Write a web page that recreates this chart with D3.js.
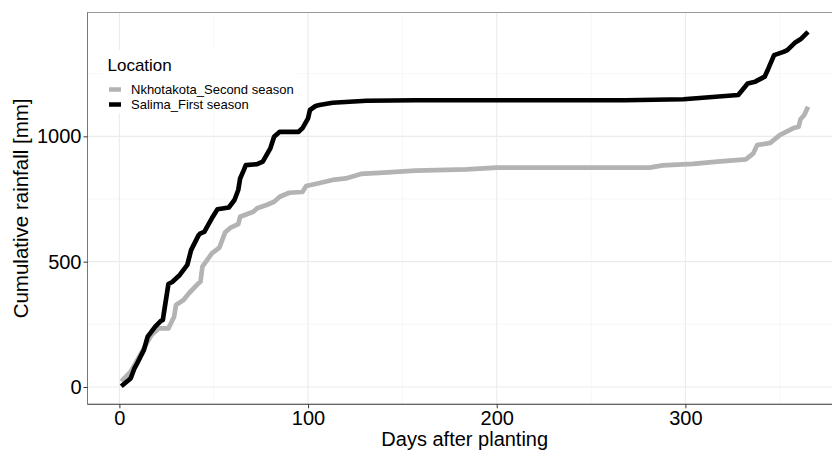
<!DOCTYPE html>
<html>
<head>
    <meta charset="utf-8">
    <title>Cumulative rainfall</title>
    <script src="https://cdn.jsdelivr.net/npm/d3@7"></script>
    <style>
        body { margin: 0; background: #fff; }
        text { font-family: "Liberation Sans", Arial, sans-serif; }
    </style>
</head>
<body>
<script>
    var w = 832;
    var h = 450;

    // Salima_First season (days after planting, cumulative mm)
    var salimaDays = [1, 5, 6, 8, 9, 13, 15, 19, 22, 23, 26, 28, 32, 36, 38, 42, 43, 45, 49, 52, 58, 61, 63, 64, 66, 67, 73, 76, 80, 82, 85, 95, 97, 100, 101, 104, 106, 113, 131, 157, 268, 299, 316, 328, 333, 337, 342, 344, 347, 352, 354, 358, 361, 365];
    var salimaRain = [3, 28, 35, 75, 88, 148, 201, 241, 264, 267, 411, 419, 447, 487, 546, 606, 613, 619, 673, 709, 716, 746, 786, 832, 866, 885, 889, 899, 952, 998, 1018, 1018, 1032, 1072, 1105, 1121, 1125, 1134, 1142, 1144, 1144, 1148, 1158, 1165, 1211, 1218, 1238, 1271, 1324, 1337, 1344, 1373, 1387, 1417];

    // Nkhotakota_Second season
    var nkhotaDays = [1, 6, 10, 14, 17, 21, 26, 29, 30, 34, 37, 42, 43, 44, 49, 53, 56, 59, 63, 64, 71, 73, 78, 82, 85, 90, 97, 99, 105, 113, 120, 128, 140, 157, 184, 200, 281, 288, 304, 317, 332, 336, 338, 345, 350, 357, 360, 361, 363, 365];
    var nkhotaRain = [22, 61, 114, 168, 207, 234, 234, 280, 327, 347, 375, 414, 420, 480, 533, 556, 616, 636, 650, 679, 699, 713, 726, 739, 759, 775, 778, 802, 812, 826, 832, 850, 855, 863, 868, 875, 875, 884, 890, 899, 908, 932, 965, 974, 1005, 1032, 1038, 1068, 1085, 1118];

    var xTicks = [0, 100, 200, 300];
    var xMinor = [50, 150, 250, 350];
    var yTicks = [0, 500, 1000];
    var yMinor = [250, 750, 1250];

    var seriesNames = ["Nkhotakota_Second season", "Salima_First season"];
    var seriesColors = ["#b3b3b3", "#000000"];

    var panel = {left: 87.5, right: 842, top: 12.5, bottom: 404.3};

    var x = d3.scaleLinear().domain([-16.9, 383]).range([panel.left, panel.right]);
    var y = d3.scaleLinear().domain([-69, 1494]).range([panel.bottom, panel.top]);

    var svg = d3.select("body").append("svg")
        .attr("width", w)
        .attr("height", h);

    svg.append("defs").append("clipPath").attr("id", "clip")
        .append("rect")
        .attr("x", panel.left).attr("y", panel.top)
        .attr("width", panel.right - panel.left)
        .attr("height", panel.bottom - panel.top);

    var plot = svg.append("g").attr("clip-path", "url(#clip)");

    // grid
    plot.selectAll(".gxm").data(xMinor).enter().append("line")
        .attr("x1", d => x(d)).attr("x2", d => x(d))
        .attr("y1", panel.top).attr("y2", panel.bottom)
        .attr("stroke", "#f2f2f2").attr("stroke-width", 0.6);
    plot.selectAll(".gym").data(yMinor).enter().append("line")
        .attr("y1", d => y(d)).attr("y2", d => y(d))
        .attr("x1", panel.left).attr("x2", panel.right)
        .attr("stroke", "#f2f2f2").attr("stroke-width", 0.6);
    plot.selectAll(".gx").data(xTicks).enter().append("line")
        .attr("x1", d => x(d)).attr("x2", d => x(d))
        .attr("y1", panel.top).attr("y2", panel.bottom)
        .attr("stroke", "#ebebeb").attr("stroke-width", 1.1);
    plot.selectAll(".gy").data(yTicks).enter().append("line")
        .attr("y1", d => y(d)).attr("y2", d => y(d))
        .attr("x1", panel.left).attr("x2", panel.right)
        .attr("stroke", "#ebebeb").attr("stroke-width", 1.1);

    // lines
    var line = d3.line()
        .x(d => x(d[0]))
        .y(d => y(d[1]));

    var series = [
        d3.zip(nkhotaDays, nkhotaRain),
        d3.zip(salimaDays, salimaRain)
    ];

    plot.selectAll(".series").data(series).enter().append("path")
        .attr("d", line)
        .attr("fill", "none")
        .attr("stroke", (d, i) => seriesColors[i])
        .attr("stroke-width", 4.7)
        .attr("stroke-linejoin", "round");

    // panel border + axis lines
    svg.append("rect")
        .attr("x", panel.left).attr("y", panel.top)
        .attr("width", panel.right - panel.left)
        .attr("height", panel.bottom - panel.top)
        .attr("fill", "none").attr("stroke", "#9a9a9a").attr("stroke-width", 1);
    svg.append("line")
        .attr("x1", panel.left).attr("x2", panel.left)
        .attr("y1", panel.top).attr("y2", panel.bottom)
        .attr("stroke", "#777").attr("stroke-width", 1);
    svg.append("line")
        .attr("x1", panel.left).attr("x2", panel.right)
        .attr("y1", panel.bottom).attr("y2", panel.bottom)
        .attr("stroke", "#666").attr("stroke-width", 1.2);

    // axes
    var xAxis = d3.axisBottom(x).tickValues(xTicks).tickFormat(d3.format("d")).tickSize(4).tickPadding(3);
    var gx = svg.append("g").attr("transform", "translate(0," + panel.bottom + ")").call(xAxis);
    gx.select(".domain").remove();
    gx.selectAll(".tick line").attr("stroke", "#333");
    gx.selectAll(".tick text")
        .attr("font-size", 20).attr("fill", "#000")
        .attr("font-family", "'Liberation Sans', Arial, sans-serif");

    var yAxis = d3.axisLeft(y).tickValues(yTicks).tickFormat(d3.format("d")).tickSize(4).tickPadding(2);
    var gy = svg.append("g").attr("transform", "translate(" + panel.left + ",0)").call(yAxis);
    gy.select(".domain").remove();
    gy.selectAll(".tick line").attr("stroke", "#333");
    gy.selectAll(".tick text")
        .attr("font-size", 20).attr("fill", "#000")
        .attr("font-family", "'Liberation Sans', Arial, sans-serif");

    // axis titles
    svg.append("text")
        .attr("x", (panel.left + panel.right) / 2)
        .attr("y", 446)
        .attr("text-anchor", "middle")
        .attr("font-size", 20)
        .text("Days after planting");

    svg.append("text")
        .attr("transform", "translate(28," + (panel.top + panel.bottom) / 2 + ") rotate(-90)")
        .attr("text-anchor", "middle")
        .attr("font-size", 20.5)
        .text("Cumulative rainfall [mm]");

    // legend
    var legend = svg.append("g");
    legend.append("rect")
        .attr("x", 102).attr("y", 50)
        .attr("width", 196).attr("height", 63)
        .attr("fill", "#fff");
    legend.append("text")
        .attr("x", 107.5).attr("y", 70.5)
        .attr("font-size", 17)
        .text("Location");
    var rows = legend.selectAll(".row").data(seriesNames).enter().append("g")
        .attr("transform", (d, i) => "translate(0," + (89.5 + i * 15) + ")");
    rows.append("line")
        .attr("x1", 109).attr("x2", 121)
        .attr("stroke", (d, i) => seriesColors[i])
        .attr("stroke-width", 4.5);
    rows.append("text")
        .attr("x", 131).attr("y", 4.6)
        .attr("font-size", 13)
        .text(d => d);
</script>
</body>
</html>
